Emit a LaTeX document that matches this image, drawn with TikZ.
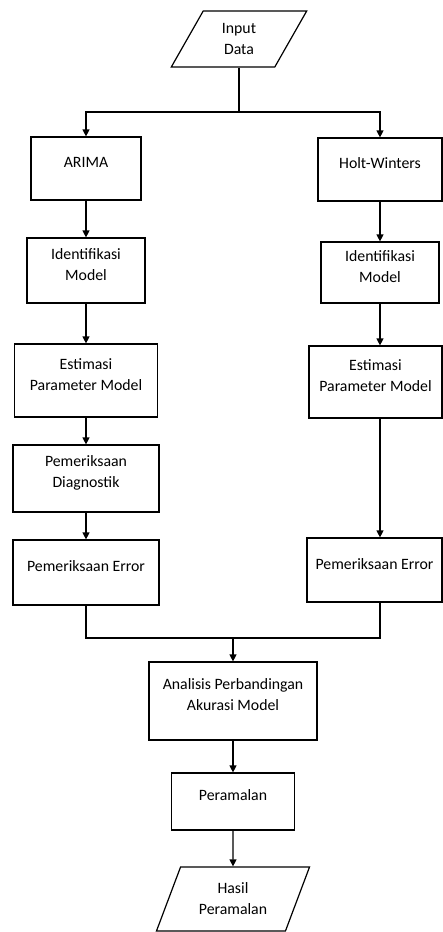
\documentclass[tikz,border=0pt]{standalone}
\usepackage{fontspec}
\setmainfont{Carlito}
\usetikzlibrary{arrows.meta, shapes.geometric}

\newcommand{\flowfont}{\fontsize{15.8}{21}\selectfont}
\tikzset{
    box/.style={draw, line width=1.2pt, rectangle, inner sep=0pt},
    io/.style={draw, line width=1.2pt, trapezium, trapezium left angle=64,
        trapezium right angle=116, trapezium stretches=true, inner sep=0pt,
        align=center, font=\flowfont},
    txt/.style={align=center, font=\flowfont, yshift=6pt},
    ln/.style={line width=1.2pt},
    arr/.style={line width=1.2pt, -{Triangle[length=7pt,width=7pt]}}
}

\begin{document}
\begin{tikzpicture}[x=1pt, y=-1pt]
    \useasboundingbox (0,0) rectangle (443,932);

    \node[io, minimum width=136pt, minimum height=56pt] (inp) at (239,39) {Input\\Data};
    \coordinate (split) at (239,112);

    \node[box, minimum width=110pt, minimum height=63pt, label={[txt]center:ARIMA}] (arima) at (86,168.5) {};
    \node[box, minimum width=118pt, minimum height=65pt, label={[txt]center:{Identifikasi\\Model}}] (idl) at (86,270.5) {};
    \node[box, minimum width=143pt, minimum height=73pt, label={[txt]center:{Estimasi\\Parameter Model}}] (estl) at (86,380.5) {};
    \node[box, minimum width=146pt, minimum height=67pt, label={[txt]center:{Pemeriksaan\\Diagnostik}}] (diag) at (86,478.5) {};
    \node[box, minimum width=146pt, minimum height=65pt, label={[txt]center:Pemeriksaan Error}] (errl) at (86,572.5) {};

    \node[box, minimum width=124pt, minimum height=63pt, label={[txt]center:Holt-Winters}] (holt) at (380,169.5) {};
    \node[box, minimum width=118pt, minimum height=61pt, label={[txt]center:{Identifikasi\\Model}}] (idr) at (380,272.5) {};
    \node[box, minimum width=133pt, minimum height=72pt, label={[txt]center:{Estimasi\\Parameter Model}}] (estr) at (375.5,382) {};
    \node[box, minimum width=135pt, minimum height=64pt, label={[txt]center:Pemeriksaan Error}] (errr) at (374.5,570) {};

    \coordinate (join) at (233,638);
    \node[box, minimum width=168pt, minimum height=78pt, label={[txt]center:{Analisis Perbandingan\\Akurasi Model}}] (anal) at (233,701) {};
    \node[box, minimum width=123pt, minimum height=57pt, label={[txt]center:Peramalan}] (peram) at (233,801.5) {};
    \node[io, minimum width=154pt, minimum height=64pt] (hasil) at (233,899) {Hasil\\Peramalan};

    \draw[ln] (inp) -- (split);
    \draw[arr] (split) -| (arima.north);
    \draw[arr] (split) -| (holt.north);

    \foreach \a/\b in {arima/idl, idl/estl, estl/diag, diag/errl, holt/idr, anal/peram, peram/hasil}
        \draw[arr] (\a) -- (\b);
    \draw[arr] (idr) -- (idr |- estr.north);
    \draw[arr] (idr |- estr.south) -- (idr |- errr.north);

    \draw[ln] (errl) |- (join);
    \draw[ln] (idr |- errr.south) |- (join);
    \draw[arr] (join) -- (anal);
\end{tikzpicture}
\end{document}
